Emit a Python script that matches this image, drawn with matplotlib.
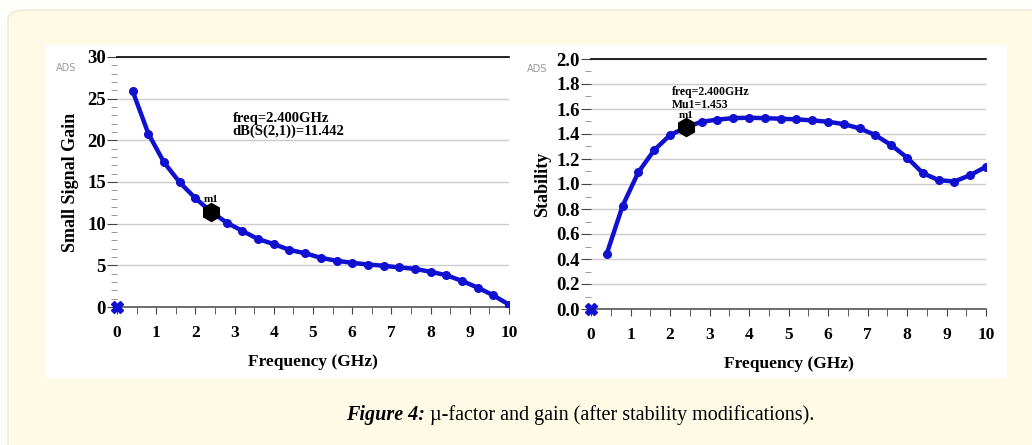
import matplotlib
matplotlib.use("Agg")
import matplotlib.pyplot as plt
from matplotlib.patches import FancyBboxPatch, Rectangle
import numpy as np

# ---- data ----
freq = [0.4, 0.8, 1.2, 1.6, 2.0, 2.4, 2.8, 3.2, 3.6, 4.0, 4.4, 4.8, 5.2,
        5.6, 6.0, 6.4, 6.8, 7.2, 7.6, 8.0, 8.4, 8.8, 9.2, 9.6, 10.0]
gain = [25.9, 20.8, 17.35, 14.95, 13.05, 11.442, 10.12, 9.12, 8.15, 7.55,
        6.85, 6.45, 5.9, 5.55, 5.3, 5.1, 4.95, 4.75, 4.58, 4.22, 3.82,
        3.13, 2.33, 1.4, 0.28]
mu = [0.443, 0.825, 1.095, 1.271, 1.391, 1.453, 1.498, 1.515, 1.527, 1.530,
      1.527, 1.522, 1.517, 1.509, 1.498, 1.479, 1.445, 1.391, 1.311, 1.212,
      1.087, 1.031, 1.020, 1.071, 1.138]
marker_f = 2.4
marker_gain = 11.442
marker_mu = 1.453

W, H = 1032, 445
blue = '#1010d0'
serif = ['Liberation Serif', 'DejaVu Serif']

fig = plt.figure(figsize=(W / 100, H / 100), dpi=100)
fig.patch.set_facecolor('#fdfdf9')

# cream rounded box + white panel
def px(x0, y0, w, h):
    return (x0 / W, 1 - (y0 + h) / H, w / W, h / H)

bx = px(8, 10, 1040, 450)
fig.patches.append(FancyBboxPatch((bx[0], bx[1]), bx[2], bx[3],
                                  boxstyle='round,pad=0,rounding_size=0.02',
                                  transform=fig.transFigure, facecolor='#fefae6',
                                  edgecolor='#ece9da', lw=1, zorder=-2))
pn = px(45, 45, 962, 333)
fig.patches.append(Rectangle((pn[0], pn[1]), pn[2], pn[3], transform=fig.transFigure,
                             facecolor='white', edgecolor='none', zorder=-1))


def setup(ax, ymax, ystep, yminor, fmt):
    ax.set_xlim(0, 10)
    ax.set_ylim(0, ymax)
    ax.set_facecolor('none')
    for s in ['left', 'right']:
        ax.spines[s].set_visible(False)
    ax.spines['top'].set_color('black')
    ax.spines['top'].set_linewidth(1.2)
    ax.spines['bottom'].set_color('#555555')
    ax.spines['bottom'].set_linewidth(1.2)
    ax.set_xticks(np.arange(0, 11, 1))
    ax.set_xticks(np.arange(0.5, 10, 0.5), minor=True)
    yt = np.arange(0, ymax + ystep / 2, ystep)
    ax.set_yticks(yt)
    ax.set_yticklabels([fmt % v for v in yt])
    ax.set_yticks(np.arange(0, ymax, yminor), minor=True)
    ax.tick_params(axis='x', which='both', length=5, color='#444444', pad=8,
                   labelsize=12.5)
    ax.tick_params(axis='y', which='major', length=7, color='#444444', pad=1,
                   labelsize=13.5)
    ax.tick_params(axis='y', which='minor', length=4, color='#888888')
    for lab in ax.get_xticklabels() + ax.get_yticklabels():
        lab.set_fontfamily(serif)
        lab.set_fontweight('bold')
    ax.grid(axis='y', which='major', color='#cccccc', lw=1)
    ax.set_axisbelow(True)
    ax.set_xlabel('Frequency (GHz)', fontfamily=serif, fontweight='bold',
                  fontsize=12.5, labelpad=9)


ax1 = fig.add_axes((117 / W, 1 - 307 / H, 392 / W, 250 / H))
setup(ax1, 30, 5, 1, '%d')
ax1.plot(freq, gain, color=blue, lw=3.2, marker='o', ms=5.5, zorder=3)
ax1.plot([0], [0], marker='X', color=blue, ms=9, zorder=4, clip_on=False)
ax1.plot([marker_f], [marker_gain], marker='h', color='black', ms=13, zorder=5)
ax1.text(marker_f, marker_gain + 0.9, 'm1', fontsize=8, fontweight='bold',
         fontfamily=serif, ha='center', va='bottom', zorder=6)
ax1.text(2.95, 23.4, 'freq=2.400GHz\ndB(S(2,1))=11.442', fontsize=10.5,
         fontweight='bold', fontfamily=serif, va='top', linespacing=1.0)
ax1.set_ylabel('Small Signal Gain', fontfamily=serif, fontweight='bold',
               fontsize=13, labelpad=6)
fig.text(56 / W, 1 - 68 / H, 'ADS', fontsize=7, color='#999999', va='center')

ax2 = fig.add_axes((591 / W, 1 - 309 / H, 395 / W, 250 / H))
setup(ax2, 2.0, 0.2, 0.1, '%.1f')
ax2.plot(freq, mu, color=blue, lw=3.2, marker='o', ms=5.5, zorder=3)
ax2.plot([0], [0], marker='X', color=blue, ms=9, zorder=4, clip_on=False)
ax2.plot([marker_f], [marker_mu], marker='h', color='black', ms=13, zorder=5)
ax2.text(marker_f, marker_mu + 0.06, 'm1', fontsize=8, fontweight='bold',
         fontfamily=serif, ha='center', va='bottom', zorder=6)
ax2.text(2.05, 1.78, 'freq=2.400GHz\nMu1=1.453', fontsize=8.5,
         fontweight='bold', fontfamily=serif, va='top', linespacing=1.0)
ax2.set_ylabel('Stability', fontfamily=serif, fontweight='bold',
               fontsize=13, labelpad=4)
fig.text(527 / W, 1 - 69 / H, 'ADS', fontsize=7, color='#999999', va='center')

# caption: bold italic lead + regular rest, centred together
cy = 1 - 415 / H
t1 = fig.text(0, cy, 'Figure 4:', fontsize=14.5, fontfamily=serif,
              fontweight='bold', fontstyle='italic', va='center')
t2 = fig.text(0, cy, ' µ-factor and gain (after stability modifications).',
              fontsize=14.5, fontfamily=serif, va='center')
r = fig.canvas.get_renderer()
w1 = t1.get_window_extent(r).width / W
w2 = t2.get_window_extent(r).width / W
x0 = 580 / W - (w1 + w2) / 2
t1.set_x(x0)
t2.set_x(x0 + w1)

fig.savefig('out.png', dpi=100, facecolor=fig.get_facecolor())
